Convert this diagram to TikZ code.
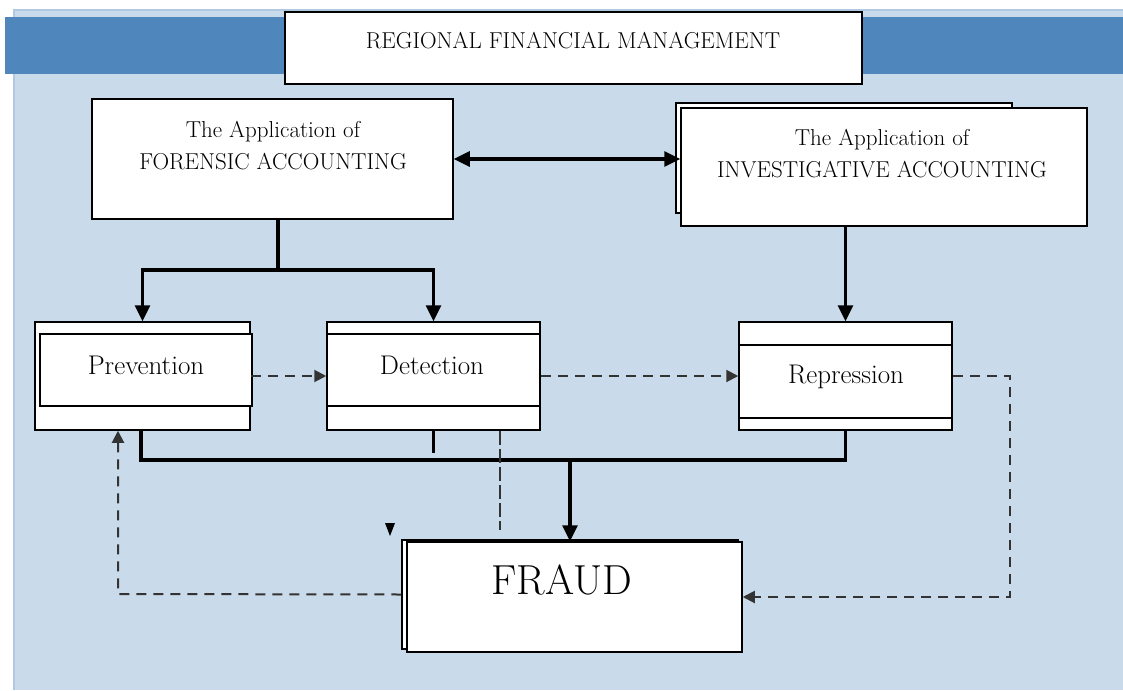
\documentclass[tikz,border=0pt]{standalone}
\usetikzlibrary{arrows.meta}
\definecolor{panelblue}{HTML}{C9DBEA}
\definecolor{bandblue}{HTML}{4F86BB}
\definecolor{dashgray}{HTML}{333333}
\begin{document}
\begin{tikzpicture}[x=1pt,y=-1pt,
bx/.style = {draw,fill=white,inner sep=0pt,line width=1.5pt},
txt/.style = {align=center,font=\fontsize{23}{32}\selectfont},
big/.style = {font=\fontsize{27}{32}\selectfont},
ln/.style = {draw,line width=3.2pt},
sol/.style = {draw,line width=3.2pt,-{Triangle[width=15pt,length=16pt]}},
dsh/.style = {draw,dashgray,line width=2pt,dash pattern=on 10pt off 7pt,-{Triangle[width=12pt,length=12pt]}}
]
  \useasboundingbox (0,0) rectangle (1123,690);
  % background panel and band
  \fill[panelblue] (14,10) rectangle (1123,690);
  \draw[bandblue!45,line width=1.5pt] (14,690) -- (14,10) -- (1123,10);
  \fill[bandblue] (5,17) rectangle (1123,74);

  \node[bx,minimum width=577pt,minimum height=72pt] (title) at (573.5,48) {};
  \node[txt] (titletxt) at (573,41) {REGIONAL FINANCIAL MANAGEMENT};

  \node[bx,minimum width=361pt,minimum height=120pt] (foren) at (272.5,159) {};
  \node[txt] (forentxt) at (273,146) {The Application of\\FORENSIC ACCOUNTING};

  \node[bx,minimum width=336pt,minimum height=110pt] (invback) at (844,158) {};
  \node[bx,minimum width=406pt,minimum height=118pt] (invest) at (884,167) {};
  \node[txt] (investtxt) at (882,154) {The Application of\\INVESTIGATIVE ACCOUNTING};

  \node[bx,minimum width=215pt,minimum height=108pt] (prevout) at (142.5,376) {};
  \node[bx,minimum width=212pt,minimum height=72pt] (prev) at (146,370) {};
  \node[txt,big] (prevtxt) at (146,365) {Prevention};

  \node[bx,minimum width=213pt,minimum height=108pt] (detout) at (433.5,376) {};
  \node[bx,minimum width=213pt,minimum height=72pt] (det) at (433.5,370) {};
  \node[txt,big] (dettxt) at (432,365) {Detection};

  \node[bx,minimum width=213pt,minimum height=108pt] (repout) at (845.5,376) {};
  \node[bx,minimum width=213pt,minimum height=73pt] (rep) at (845.5,381.5) {};
  \node[txt,big] (reptxt) at (846,377) {Repression};

  \node[bx,minimum width=336pt,minimum height=109pt] (fraudback) at (570,594.5) {};
  \node[bx,minimum width=335pt,minimum height=110pt] (fraud) at (574.5,597) {};
  \node[txt,font=\fontsize{42}{48}\selectfont] (fraudtxt) at (562,580) {FRAUD};

  \coordinate (fsplit) at (278,270);
  \coordinate (jl) at (141,460);
  \coordinate (jm) at (570,460);
  \coordinate (dstub) at (433.5,453);
  \coordinate (dd) at (500,530);
  \coordinate (rc) at (1010,376);
  \coordinate (lc) at (118,594);

  \path[sol,{Triangle[width=15pt,length=16pt]}-{Triangle[width=15pt,length=16pt]}] (foren.east) -- (foren.east -| invest.west);
  \path[ln] (fsplit |- foren.south) -- (fsplit);
  \path[sol] (fsplit) -| (prevout.north);
  \path[sol] (fsplit) -| (detout.north);
  \path[sol] (invest.south -| repout.north) -- (repout.north);

  \path[dsh] (prevout.east) -- (detout.west);
  \path[dsh] (detout.east) -- (repout.west);
  \path[dsh] (repout.east) -- (rc) |- (fraud.east);
  \path[dsh] (fraudback.west) -- (lc) -- (lc |- prevout.south);

  \path[ln,line join=miter] (jl |- prevout.south) -- (jl) -- (jl -| repout.south) -- (repout.south);
  \path[ln] (detout.south) -- (dstub);
  \path[sol] (jm) -- (jm |- fraud.north);
  \draw[dashgray,line width=1.2pt,dash pattern=on 14pt off 4pt] (dd |- detout.south) -- (dd);

  \fill (385,523) -- (395,523) -- (390,536) -- cycle;
\end{tikzpicture}
\end{document}
